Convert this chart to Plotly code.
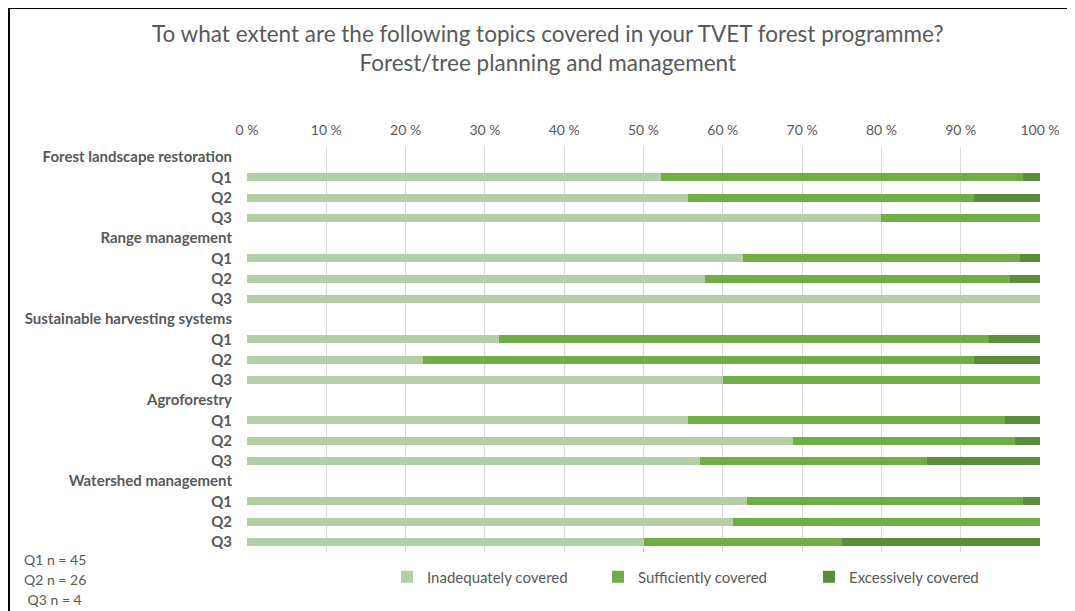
import plotly.graph_objects as go

# chart data
groups = ["Forest landscape restoration", "Range management",
          "Sustainable harvesting systems", "Agroforestry", "Watershed management"]
questions = ["Q1", "Q2", "Q3"]
series_names = ["Inadequately covered", "Sufficiently covered", "Excessively covered"]
inadequate = [52.2, 55.6, 80.0, 62.5, 57.7, 100.0, 31.8, 22.2, 60.0,
              55.6, 68.8, 57.1, 63.0, 61.3, 50.0]
sufficient = [45.6, 36.1, 20.0, 35.0, 38.5, 0.0, 61.8, 69.5, 40.0,
              40.0, 28.1, 28.6, 34.8, 38.7, 25.0]
excessive = [2.2, 8.3, 0.0, 2.5, 3.8, 0.0, 6.4, 8.3, 0.0,
             4.4, 3.1, 14.3, 2.2, 0.0, 25.0]
x_ticks = [0, 10, 20, 30, 40, 50, 60, 70, 80, 90, 100]
notes = ["Q1 n = 45", "Q2 n = 26", " Q3 n = 4"]

colors = ["#B4CEA5", "#70AD47", "#5B8E3A"]
grey = "#595959"
font_family = "Lato, 'Open Sans', sans-serif"

# category keys: one header row per group followed by its questions
cat_keys, cat_text, bar_keys = [], [], []
for g in groups:
    cat_keys.append(g)
    cat_text.append(g)
    for q in questions:
        k = g + "|" + q
        cat_keys.append(k)
        cat_text.append(q)
        bar_keys.append(k)

fig = go.Figure()
for name, vals, col in zip(series_names, [inadequate, sufficient, excessive], colors):
    fig.add_trace(go.Bar(
        y=bar_keys, x=vals, name=name, orientation="h",
        marker=dict(color=col, line=dict(width=0)),
        hovertemplate="%{x:.1f} %<extra>" + name + "</extra>",
    ))

# the page body has an 8px margin, so the figure sits at (8, 8) in the window
OFF = 8
W, H = 1075 - OFF, 611 - OFF
L, T, B = 247 - OFF, 147 - OFF, 611 - 552
R = W - (1040 - OFF)
pw, ph = W - L - R, H - T - B


def px(x):
    # window pixel -> paper x
    return (x - OFF - L) / pw


def py(y):
    # window pixel -> paper y
    return (H - B - (y - OFF)) / ph


fig.update_layout(
    width=W, height=H,
    margin=dict(l=L, r=R, t=T, b=B),
    barmode="stack", bargap=0.6,
    plot_bgcolor="white", paper_bgcolor="white",
    font=dict(family=font_family, color=grey, size=14),
    showlegend=True,
    legend=dict(orientation="h", x=px(387), xanchor="left", y=py(577), yanchor="middle",
                font=dict(size=15, color=grey), traceorder="normal",
                entrywidth=166, itemwidth=30),
    xaxis=dict(range=[0, 100], side="top", tickvals=x_ticks,
               ticktext=[f"{v} %" for v in x_ticks],
               showgrid=True, gridcolor="#D9D9D9", gridwidth=1,
               zeroline=False, showline=False, ticks="",
               ticklabelstandoff=8,
               tickfont=dict(size=14, color=grey), fixedrange=True),
    yaxis=dict(type="category", categoryorder="array", categoryarray=cat_keys,
               tickvals=cat_keys, ticktext=cat_text,
               range=[len(cat_keys) - 0.5, -0.5],
               showgrid=False, zeroline=False, showline=False, ticks="",
               ticklabelstandoff=14,
               tickfont=dict(size=15, color=grey, weight="bold")),
)

fig.add_annotation(
    text="To what extent are the following topics covered in your TVET forest programme?"
         "<br>Forest/tree planning and management",
    xref="paper", yref="paper", x=px(547), y=py(48), xanchor="center", yanchor="middle",
    showarrow=False, font=dict(size=22.5, color=grey), align="center")

for i, t in enumerate(notes):
    fig.add_annotation(text=t, xref="paper", yref="paper", x=px(22), y=py(559 + 20 * i),
                       xanchor="left", yanchor="middle", showarrow=False,
                       font=dict(size=14, color=grey))

# frame lines (top and left)
fig.add_shape(type="line", xref="paper", yref="paper", x0=px(8), x1=px(1075),
              y0=py(8), y1=py(8), line=dict(color="black", width=2))
fig.add_shape(type="line", xref="paper", yref="paper", x0=px(9), x1=px(9),
              y0=py(8), y1=py(611), line=dict(color="black", width=2))

fig.write_html("out.html")
